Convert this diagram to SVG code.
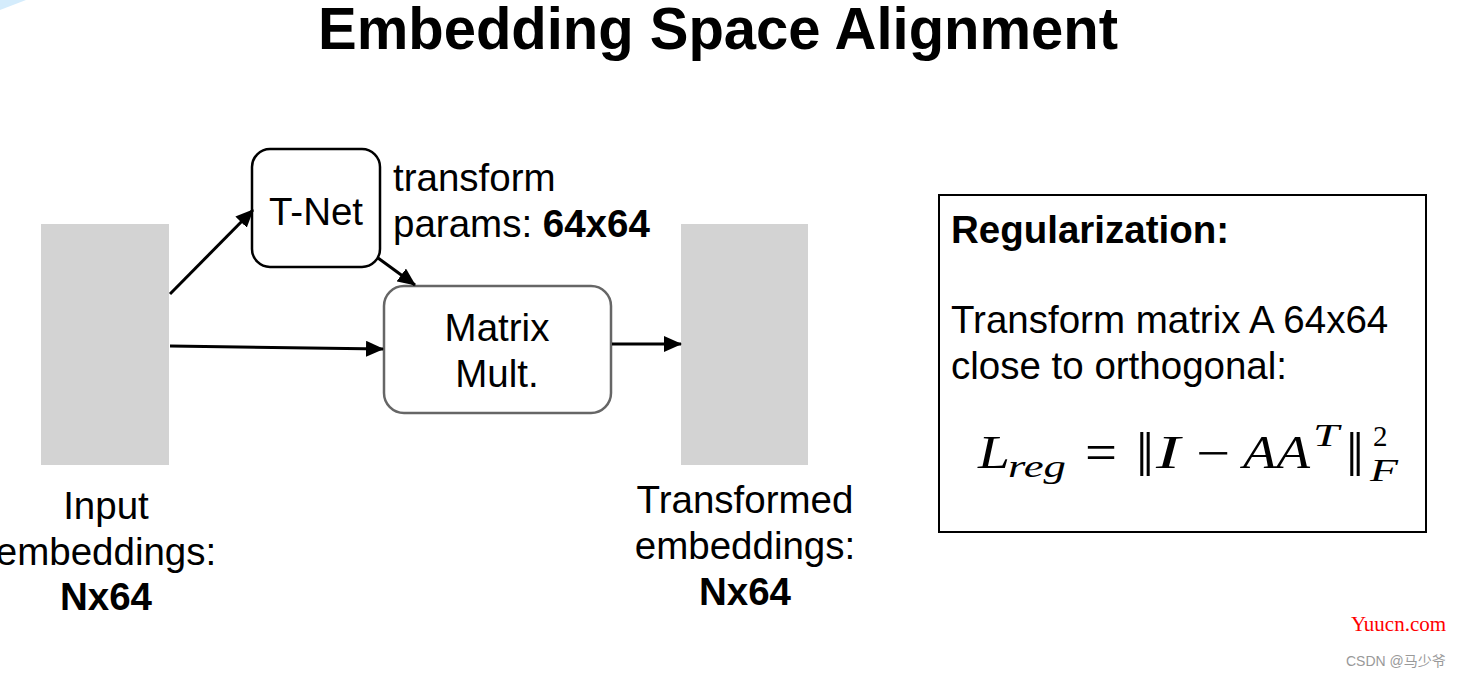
<svg xmlns="http://www.w3.org/2000/svg" width="1461" height="679" viewBox="0 0 1461 679">
<style>
.t{font-family:"Liberation Sans",Arial,sans-serif;font-size:38.5px;fill:#000}
.b{font-weight:bold}
.m{font-family:"Liberation Serif","DejaVu Serif",serif;fill:#000}
.i{font-style:italic}
.blk{fill:#d3d3d3}
.edge{stroke:#000;stroke-width:3;fill:none}
</style>
<defs>
<marker id="ah" markerUnits="userSpaceOnUse" markerWidth="18" markerHeight="16" refX="17" refY="8" orient="auto">
<path d="M0,0 L18,8 L0,16 z" fill="#000"/>
</marker>
</defs>
<rect width="1461" height="679" fill="#fff"/>
<polygon points="0,0 26,0 0,10" fill="#d4ecfc"/>
<text x="318" y="49" style="font-family:'Liberation Sans',Arial,sans-serif;font-weight:bold;font-size:60px" textLength="800" lengthAdjust="spacingAndGlyphs">Embedding Space Alignment</text>

<g id="input">
<rect class="blk" x="41" y="224" width="128" height="241"/>
<text class="t" text-anchor="middle" x="106" y="519">Input</text>
<text class="t" text-anchor="middle" x="106" y="565">embeddings:</text>
<text class="t b" text-anchor="middle" x="106" y="610">Nx64</text>
</g>

<g id="tnet">
<rect x="252" y="149" width="128" height="118" rx="18" fill="#fff" stroke="#000" stroke-width="2.5"/>
<text class="t" text-anchor="middle" x="316" y="225">T-Net</text>
</g>

<g id="params">
<text class="t" x="393" y="191">transform</text>
<text class="t" x="393" y="237">params: <tspan class="b">64x64</tspan></text>
</g>

<g id="matmul">
<rect x="384" y="286" width="227" height="127" rx="20" fill="#fff" stroke="#666" stroke-width="2.5"/>
<text class="t" text-anchor="middle" x="497" y="341">Matrix</text>
<text class="t" text-anchor="middle" x="497" y="387">Mult.</text>
</g>

<g id="output">
<rect class="blk" x="681" y="224" width="127" height="241"/>
<text class="t" text-anchor="middle" x="745" y="513">Transformed</text>
<text class="t" text-anchor="middle" x="745" y="559">embeddings:</text>
<text class="t b" text-anchor="middle" x="745" y="605">Nx64</text>
</g>

<g id="connectors">
<line class="edge" x1="170" y1="294" x2="253" y2="210" marker-end="url(#ah)"/>
<line class="edge" x1="170" y1="346" x2="383" y2="349" marker-end="url(#ah)"/>
<line class="edge" x1="378" y1="258" x2="415" y2="285" marker-end="url(#ah)"/>
<line class="edge" x1="612" y1="344" x2="681" y2="344" marker-end="url(#ah)"/>
</g>

<g id="regularization">
<rect x="939" y="195" width="487" height="337" fill="#fff" stroke="#000" stroke-width="2"/>
<text class="t b" x="951" y="243">Regularization:</text>
<text class="t" x="951" y="333">Transform matrix A 64x64</text>
<text class="t" x="951" y="379">close to orthogonal:</text>
<g font-size="44">
<text class="m i" x="978" y="468" font-size="46" textLength="32" lengthAdjust="spacingAndGlyphs">L</text>
<text class="m i" x="1008" y="477" font-size="31" textLength="58" lengthAdjust="spacingAndGlyphs">reg</text>
<text class="m" x="1085" y="470" font-size="52" textLength="32" lengthAdjust="spacingAndGlyphs">=</text>
<text class="m" x="1136" y="476" font-size="64">‖</text>
<text class="m i" x="1156" y="468" font-size="46" textLength="24" lengthAdjust="spacingAndGlyphs">I</text>
<text class="m" x="1196" y="470" font-size="50" textLength="34" lengthAdjust="spacingAndGlyphs">−</text>
<text class="m i" x="1243" y="468" font-size="46" textLength="67" lengthAdjust="spacingAndGlyphs">AA</text>
<text class="m i" x="1313" y="446" font-size="31" textLength="26" lengthAdjust="spacingAndGlyphs">T</text>
<text class="m" x="1346" y="476" font-size="64">‖</text>
<text class="m" x="1373" y="446" font-size="29">2</text>
<text class="m i" x="1370" y="481" font-size="31" textLength="28" lengthAdjust="spacingAndGlyphs">F</text>
</g>
</g>

<g id="watermark">
<text x="1351" y="631" font-family="Liberation Serif,serif" font-size="21" fill="#ff0000">Yuucn.com</text>
<text x="1346" y="666" font-family="Liberation Sans,'Noto Sans CJK SC',sans-serif" font-size="14" fill="#999">CSDN @马少爷</text>
</g>
</svg>
